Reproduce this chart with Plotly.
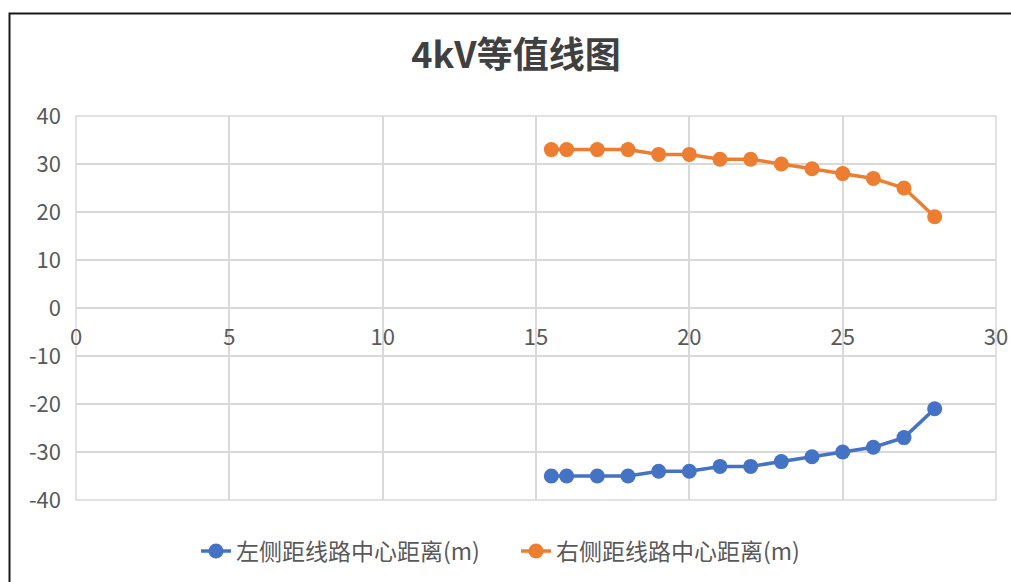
import plotly.graph_objects as go

# Distance along the line (m)
x_vals = [15.5, 16, 17, 18, 19, 20, 21, 22, 23, 24, 25, 26, 27, 28]
# Left-side distance from line centre (m)
left_vals = [-35, -35, -35, -35, -34, -34, -33, -33, -32, -31, -30, -29, -27, -21]
# Right-side distance from line centre (m)
right_vals = [33, 33, 33, 33, 32, 32, 31, 31, 30, 29, 28, 27, 25, 19]

left_name = "左侧距线路中心距离(m)"
right_name = "右侧距线路中心距离(m)"
title_text = "4kV等值线图"

x_ticks = [0, 5, 10, 15, 20, 25, 30]
y_ticks = [40, 30, 20, 10, 0, -10, -20, -30, -40]
y_labels = ["40", "30", "20", "10", "0", "-10", "-20", "-30", "-40"]

FONT = "Noto Sans CJK SC, Noto Sans, sans-serif"
BLUE = "#4472C4"
ORANGE = "#ED7D31"
GRID = "#D9D9D9"
TICK = "#595959"

W, H = 1011, 582
ML, MR, MT, MB = 76, 15, 116, 82

fig = go.Figure()
fig.add_trace(go.Scatter(
    x=x_vals, y=left_vals, name=left_name, mode="lines+markers",
    line=dict(color=BLUE, width=3.5), marker=dict(color=BLUE, size=15),
))
fig.add_trace(go.Scatter(
    x=x_vals, y=right_vals, name=right_name, mode="lines+markers",
    line=dict(color=ORANGE, width=3.5), marker=dict(color=ORANGE, size=15),
))

pw = W - ML - MR
ph = H - MT - MB

# outer chart frame (top-left corner visible, runs off the page)
fig.add_shape(type="rect", xref="paper", yref="paper",
              x0=(9.5 - ML) / pw, x1=(W + 20 - ML) / pw,
              y0=-(H + 20 - (H - MB)) / ph, y1=(H - MB - 13.5) / ph,
              line=dict(color="#1a1a1a", width=2), fillcolor="rgba(0,0,0,0)",
              layer="below")
# plot-area border
fig.add_shape(type="rect", xref="paper", yref="paper", x0=0, x1=1, y0=0, y1=1,
              line=dict(color=GRID, width=1.5), fillcolor="rgba(0,0,0,0)",
              layer="below")

fig.update_layout(
    width=W, height=H,
    margin=dict(l=ML, r=MR, t=MT, b=MB, autoexpand=False),
    paper_bgcolor="white", plot_bgcolor="white",
    font=dict(family=FONT, color=TICK, size=22),
    title=dict(text="<b>" + title_text + "</b>", x=516 / W, xanchor="center",
               y=1 - 55 / H, yanchor="middle",
               font=dict(family=FONT, size=36, color="#404040")),
    showlegend=True,
    legend=dict(orientation="h", x=(516 - ML) / pw, xanchor="center",
                y=-(551 - (H - MB)) / ph, yanchor="middle",
                font=dict(size=23, color=TICK),
                entrywidth=275, entrywidthmode="pixels",
                bgcolor="rgba(0,0,0,0)"),
    xaxis=dict(range=[0, 30], tickvals=x_ticks, showgrid=True, gridcolor=GRID,
               gridwidth=1.5, zeroline=False, showline=False, ticks="",
               anchor="free", position=0.5, ticklabelstandoff=14,
               automargin=False,
               tickfont=dict(size=22, color=TICK)),
    yaxis=dict(range=[-40, 40], tickvals=y_ticks, ticktext=y_labels,
               showgrid=True, gridcolor=GRID,
               gridwidth=1.5, zeroline=False, showline=False, ticks="",
               ticklabelstandoff=14, automargin=False,
               tickfont=dict(size=22, color=TICK)),
)

fig.write_html("out.html")
